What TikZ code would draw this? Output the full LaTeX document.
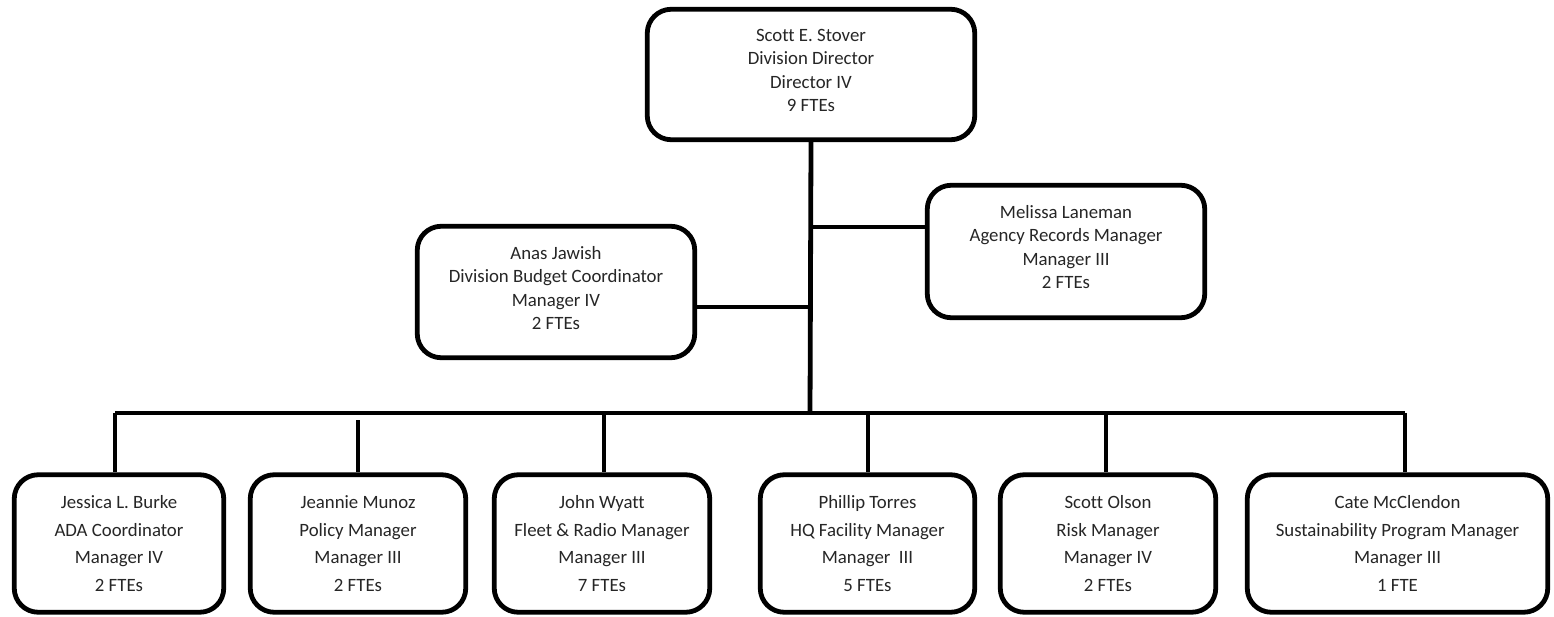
\documentclass[tikz,border=0pt]{standalone}
\usepackage{fontspec}
\setmainfont{Carlito}[Ligatures=NoCommon]
\begin{document}
\begin{tikzpicture}[x=1pt,y=-1pt,
  box/.style={draw=black, line width=4.8pt, rounded corners=24pt, fill=white,
    align=center, inner sep=0pt, text=black!85,
    font=\fontsize{18.8}{23.3}\selectfont},
  lowbox/.style={box, minimum height=137.5pt,
    font=\fontsize{18.8}{27.5}\selectfont},
  link/.style={draw=black, line width=4.8pt}]
\useasboundingbox (0,0) rectangle (1554,617);

% director (the trailing empty line lifts the text a little inside the box)
\node[box, minimum width=327.5pt, minimum height=130.5pt] (dir) at (811,74.5)
  {Scott E. Stover\\Division Director\\Director IV\\9 FTEs\\[-15pt]\mbox{}};

% staff boxes beside the trunk
\node[box, minimum width=277.5pt, minimum height=131.5pt] (budget) at (556,292)
  {Anas Jawish\\Division Budget Coordinator\\Manager IV\\2 FTEs\\[-15pt]\mbox{}};
\node[box, minimum width=277.5pt, minimum height=132.5pt] (records) at (1066,251.5)
  {Melissa Laneman\\Agency Records Manager\\Manager III\\2 FTEs\\[-14pt]\mbox{}};

% managers along the bottom
\node[lowbox, minimum width=209.5pt] (ada) at (119,543.5)
  {Jessica L. Burke\\ADA Coordinator\\Manager IV\\2 FTEs};
\node[lowbox, minimum width=215.5pt] (policy) at (358,543.5)
  {Jeannie Munoz\\Policy Manager\\Manager III\\2 FTEs};
\node[lowbox, minimum width=215.5pt] (fleet) at (602,543.5)
  {John Wyatt\\Fleet \& Radio Manager\\Manager III\\7 FTEs};
\node[lowbox, minimum width=214.5pt] (facility) at (867.5,543.5)
  {Phillip Torres\\HQ Facility Manager\\Manager~~III\\5 FTEs};
\node[lowbox, minimum width=215.5pt] (risk) at (1108,543.5)
  {Scott Olson\\Risk Manager\\Manager IV\\2 FTEs};
\node[lowbox, minimum width=300.5pt] (sustain) at (1397.5,543.5)
  {Cate McClendon\\Sustainability Program Manager\\Manager III\\1 FTE};

% connector points
\coordinate (hub) at (810,413);
\coordinate (busL) at (115,413);
\coordinate (busR) at (1405,413);
\coordinate (tapB) at (810,307);
\coordinate (tapR) at (810,227);
\coordinate (dPolicy) at (358,420);
\coordinate (dFleet) at (604,413);
\coordinate (dFacility) at (868,413);
\coordinate (dRisk) at (1106,413);

% trunk and bus
\draw[link] (dir.south) -- (hub);
\draw[link] (busL) -- (busR);
\draw[link] (budget.east |- tapB) -- (tapB);
\draw[link] (tapR) -- (records.west |- tapR);

% drops to the managers
\draw[link] (busL) -- (busL |- ada.north);
\draw[link] (dPolicy) -- (dPolicy |- policy.north);
\draw[link] (dFleet) -- (dFleet |- fleet.north);
\draw[link] (dFacility) -- (dFacility |- facility.north);
\draw[link] (dRisk) -- (dRisk |- risk.north);
\draw[link] (busR) -- (busR |- sustain.north);
\end{tikzpicture}
\end{document}
